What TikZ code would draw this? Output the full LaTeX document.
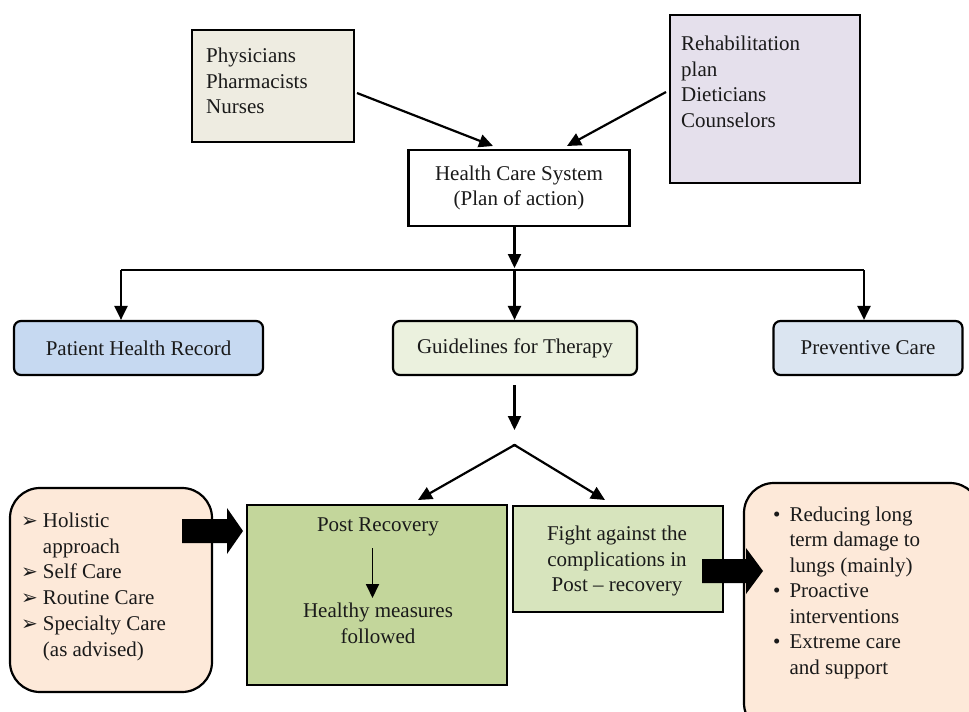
\documentclass[tikz,border=0pt]{standalone}
\usepackage{fontspec}
\setmainfont[Ligatures=TeX]{Liberation Serif}
\newfontfamily\symfont{DejaVu Sans}
\usetikzlibrary{arrows.meta}
\definecolor{txt}{HTML}{1A1A1A}
\definecolor{physfill}{HTML}{EEECE1}
\definecolor{rehabfill}{HTML}{E5E0EC}
\definecolor{phrfill}{HTML}{C6D9F1}
\definecolor{guidefill}{HTML}{EBF1DE}
\definecolor{prevfill}{HTML}{DBE5F1}
\definecolor{postfill}{HTML}{C3D69B}
\definecolor{fightfill}{HTML}{D7E4BD}
\definecolor{peachfill}{HTML}{FDE9D9}
\tikzset{
  every node/.style={text=txt, font=\rmfamily\fontsize{21}{25.5}\selectfont, inner sep=0pt},
  sqbox/.style={draw=black, line width=2.2pt, rectangle},
  rbox/.style={draw=black, line width=2.2pt, rectangle, rounded corners=7pt},
  pbox/.style={draw=black, line width=2.2pt, rectangle, rounded corners=30pt, fill=peachfill},
  arr/.style={line width=2.2pt, -{Triangle[length=14pt,width=13pt]}},
  plainline/.style={line width=2.2pt},
  blockarrow/.style={fill=black, draw=none},
}
\newcommand{\arrbul}{{\symfont\fontsize{20}{25.7}\selectfont ➢}}
\begin{document}
\begin{tikzpicture}[x=1pt,y=-1pt]
\useasboundingbox (0,0) rectangle (969,712);
\fill[white] (0,0) rectangle (969,712);

% top boxes
\node[sqbox, fill=physfill, minimum width=162pt, minimum height=112pt] (phys) at (273,86) {};
\node[anchor=north west, align=left] (physt) at (206,48) {Physicians\\Pharmacists\\Nurses};
\node[sqbox, fill=rehabfill, minimum width=190pt, minimum height=168pt] (rehab) at (765,99) {};
\node[anchor=north west, align=left] (rehabt) at (681,36) {Rehabilitation\\plan\\Dieticians\\Counselors};
\node[sqbox, fill=white, minimum width=221pt, minimum height=76pt, align=center] (hcs) at (519,188) {Health Care System\\(Plan of action)};

\coordinate (physout) at (357,93);
\coordinate (rehabout) at (666,92);
\coordinate (hcsinL) at (493,146);
\coordinate (hcsinR) at (567,146);
\draw[arr] (physout) -- (hcsinL);
\draw[arr] (rehabout) -- (hcsinR);

% middle row
\node[rbox, fill=phrfill, minimum width=249pt, minimum height=54pt] (phr) at (138.5,348) {Patient Health Record};
\node[rbox, fill=guidefill, minimum width=244pt, minimum height=54pt] (guide) at (515,348) {Guidelines for Therapy};
\node[rbox, fill=prevfill, minimum width=189pt, minimum height=54pt] (prev) at (868,348) {Preventive Care};

\coordinate (split) at (514.5,270);
\coordinate (splitL) at (121,270);
\coordinate (splitR) at (864,270);
\draw[arr] (hcs.south -| split) -- (split |- 0,268);
\draw[plainline] (splitL) -- (splitR);
\draw[arr] (splitL) -- (phr.north -| splitL);
\draw[arr] (split) -- (guide.north -| split);
\draw[arr] (splitR) -- (prev.north -| splitR);

% lower split
\coordinate (gdown) at (514.5,385);
\coordinate (gtip) at (514.5,430);
\coordinate (apex) at (514.5,445);
\draw[arr] (gdown) -- (gtip);

% bottom boxes
\node[sqbox, fill=postfill, minimum width=260pt, minimum height=180pt] (post) at (377,595) {};
\node[sqbox, fill=fightfill, minimum width=210pt, minimum height=106pt] (fight) at (618,559) {};
\node[align=center] (fightt) at (617,561) {Fight against the\\complications in\\Post – recovery};
\draw[arr] (apex) -- (418,500);
\draw[arr] (apex) -- (605,500);
\draw[plainline, line join=miter] (apex) ++(-2,1) -- (apex) -- ++(2,1);

\node (postt) at (378,527) {Post Recovery};
\node[align=center, anchor=north] (healthy) at (378,603) {Healthy measures\\followed};
\coordinate (pa1) at (372.5,548);
\draw[arr, line width=1.8pt] (pa1) -- (372.5,598);

% peach boxes
\node[pbox, minimum width=202pt, minimum height=204pt] (left) at (111,590) {};
\node[anchor=north west, align=left, font=\rmfamily\fontsize{21}{25.8}\selectfont] (leftt) at (21,509) {%
\begin{tabular}{@{}l@{\hspace{5pt}}l@{}}
\arrbul & Holistic\\
 & approach\\
\arrbul & Self Care\\
\arrbul & Routine Care\\
\arrbul & Specialty Care\\
 & (as advised)
\end{tabular}};

\node[pbox, minimum width=236pt, minimum height=250pt] (right) at (862,608) {};
\node[anchor=north west, align=left, font=\rmfamily\fontsize{21}{25.5}\selectfont] (rightt) at (773,503) {%
\begin{tabular}{@{}l@{\hspace{9pt}}l@{}}
• & Reducing long\\
 & term damage to\\
 & lungs (mainly)\\
• & Proactive\\
 & interventions\\
• & Extreme care\\
 & and support
\end{tabular}};

% block arrows
\fill[blockarrow] (182,519) -- (227,519) -- (227,508) -- (243,531) -- (227,554) -- (227,543) -- (182,543) -- cycle;
\fill[blockarrow] (702,559) -- (746,559) -- (746,548) -- (763,571) -- (746,594) -- (746,583) -- (702,583) -- cycle;
\end{tikzpicture}
\end{document}
